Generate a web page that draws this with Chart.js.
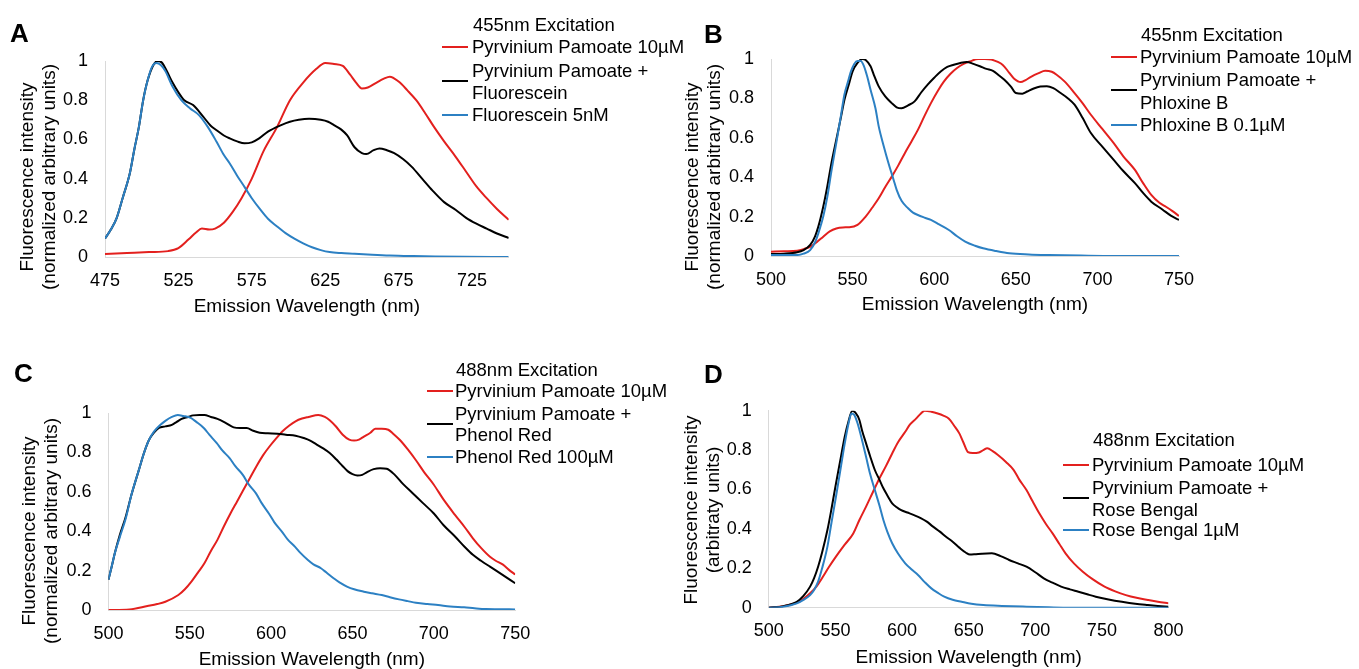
<!DOCTYPE html>
<html>
<head>
<meta charset="utf-8">
<script src="https://cdn.jsdelivr.net/npm/chart.js@4.4.1/dist/chart.umd.min.js"></script>
<style>
  body { margin: 0; background: #fff; width: 1359px; height: 669px; position: relative; overflow: hidden;
         font-family: "Liberation Sans", Arial, sans-serif; color: #000; }
  canvas { position: absolute; }
  .txt { position: absolute; white-space: nowrap; font-size: 18.5px; line-height: 22px; }
  .letter { position: absolute; font-weight: bold; font-size: 26px; line-height: 30px; }
  .ytitle { position: absolute; white-space: nowrap; font-size: 19px; line-height: 21.5px; text-align: center;
            transform: translate(-50%, -50%) rotate(-90deg); }
  .swatch { position: absolute; height: 2px; }
</style>
</head>
<body>
<script>
// ---- tick labels ----
const yTicks = [0, 0.2, 0.4, 0.6, 0.8, 1];
const xTicksA = [475, 525, 575, 625, 675, 725];
const xTicksB = [500, 550, 600, 650, 700, 750];
const xTicksC = [500, 550, 600, 650, 700, 750];
const xTicksD = [500, 550, 600, 650, 700, 750, 800];

// ---- A: 455nm excitation, fluorescein ----
const aPpX = [475, 490, 505, 518, 525, 532, 537, 541, 546, 550, 556, 562, 568, 575, 583, 592, 601, 610, 619, 625, 631, 637, 642, 646, 650, 654, 660, 665, 669, 675, 681, 687, 693, 699, 706, 714, 721, 728, 735, 742, 750];
const aPpY = [0.015, 0.02, 0.025, 0.03, 0.045, 0.09, 0.125, 0.145, 0.14, 0.145, 0.175, 0.23, 0.3, 0.4, 0.54, 0.66, 0.8, 0.89, 0.96, 0.99, 0.985, 0.975, 0.93, 0.89, 0.86, 0.865, 0.89, 0.91, 0.92, 0.895, 0.85, 0.8, 0.735, 0.665, 0.59, 0.51, 0.435, 0.36, 0.3, 0.245, 0.19];
const aMixX = [475, 479, 483, 487, 492, 495, 498, 501, 504, 508, 511, 514, 517, 521, 525, 529, 535, 542, 547, 551, 556, 560, 565, 570, 575, 580, 586, 595, 601, 607, 614, 622, 627, 631, 636, 640, 645, 650, 653, 658, 662, 667, 672, 678, 684, 691, 698, 706, 714, 721, 728, 735, 742, 750];
const aMixY = [0.094, 0.14, 0.2, 0.3, 0.43, 0.55, 0.66, 0.8, 0.9, 0.98, 1.0, 0.99, 0.95, 0.89, 0.84, 0.8, 0.775, 0.715, 0.67, 0.647, 0.62, 0.605, 0.59, 0.58, 0.585, 0.605, 0.64, 0.673, 0.69, 0.7, 0.705, 0.7, 0.69, 0.673, 0.65, 0.62, 0.56, 0.53, 0.525, 0.545, 0.554, 0.545, 0.53, 0.5, 0.46, 0.4, 0.34, 0.28, 0.24, 0.2, 0.17, 0.145, 0.12, 0.097];
const aDyeX = [475, 479, 483, 487, 492, 495, 498, 501, 504, 507, 510, 513, 516, 521, 527, 533, 539, 545, 551, 556, 560, 565, 570, 575, 581, 586, 592, 598, 604, 610, 616, 622, 628, 636, 645, 657, 669, 685, 700, 720, 750];
const aDyeY = [0.094, 0.14, 0.2, 0.3, 0.43, 0.55, 0.66, 0.8, 0.9, 0.97, 0.99, 0.98, 0.95, 0.87, 0.8, 0.758, 0.724, 0.664, 0.588, 0.52, 0.477, 0.415, 0.358, 0.3, 0.24, 0.195, 0.157, 0.122, 0.094, 0.07, 0.05, 0.035, 0.025, 0.02, 0.017, 0.012, 0.008, 0.005, 0.003, 0.001, 0.0];

// ---- B: 455nm excitation, phloxine B ----
const bPpX = [500, 508, 516, 520, 524, 528, 532, 536, 540, 544, 548, 553, 558, 562, 566, 570, 574, 578, 582, 586, 590, 594, 598, 602, 606, 610, 614, 618, 622, 627, 631, 635, 639, 642, 646, 649, 653, 656, 659, 664, 668, 672, 675, 680, 686, 691, 696, 703, 710, 716, 723, 728, 733, 738, 742, 746, 750];
const bPpY = [0.022, 0.024, 0.027, 0.035, 0.047, 0.07, 0.098, 0.125, 0.14, 0.145, 0.146, 0.158, 0.2, 0.245, 0.293, 0.35, 0.403, 0.46, 0.522, 0.58, 0.64, 0.71, 0.776, 0.835, 0.886, 0.925, 0.954, 0.975, 0.988, 1.0, 1.0, 0.997, 0.985, 0.97, 0.93, 0.9, 0.883, 0.893, 0.908, 0.928, 0.94, 0.935, 0.92, 0.885, 0.827, 0.775, 0.717, 0.645, 0.573, 0.505, 0.437, 0.37, 0.31, 0.27, 0.25, 0.228, 0.203];
const bMixX = [500, 508, 516, 520, 524, 527, 529, 532, 534.5, 537, 540, 543, 545, 548, 550, 553, 556, 558, 561, 563, 566, 570, 574, 577, 580, 584, 588, 592, 596, 600, 604, 608, 612, 616, 620, 624, 628, 632, 636, 640, 643, 647, 650, 654, 657, 661, 665, 669, 673, 677, 682, 686, 691, 696, 703, 710, 716, 723, 728, 733, 740, 745, 750];
const bMixY = [0.01, 0.012, 0.019, 0.03, 0.056, 0.1, 0.149, 0.25, 0.353, 0.47, 0.59, 0.71, 0.793, 0.88, 0.937, 0.98, 1.0, 0.995, 0.963, 0.92, 0.861, 0.81, 0.776, 0.755, 0.75, 0.765, 0.785, 0.83, 0.87, 0.905, 0.937, 0.96, 0.971, 0.98, 0.985, 0.975, 0.963, 0.95, 0.94, 0.915, 0.895, 0.86, 0.827, 0.824, 0.835, 0.85, 0.86, 0.862, 0.852, 0.83, 0.8, 0.768, 0.7, 0.624, 0.555, 0.488, 0.43, 0.37, 0.32, 0.276, 0.235, 0.205, 0.183];
const bDyeX = [500, 510, 516, 520, 524, 527, 529, 532, 534.5, 537, 540, 543, 545, 547, 549, 551, 553, 555, 557, 559, 561, 564, 566, 569, 572, 575, 577, 580, 584, 587, 590, 594, 598, 603, 609, 614, 619, 625, 630, 638, 646, 658, 670, 690, 710, 750];
const bDyeY = [0.005, 0.005, 0.005, 0.012, 0.03, 0.07, 0.115, 0.2, 0.3, 0.43, 0.573, 0.72, 0.82, 0.88, 0.937, 0.975, 0.99, 0.99, 0.963, 0.91, 0.844, 0.75, 0.658, 0.56, 0.471, 0.39, 0.336, 0.28, 0.242, 0.22, 0.208, 0.195, 0.183, 0.16, 0.132, 0.1, 0.073, 0.052, 0.039, 0.025, 0.014, 0.008, 0.005, 0.002, 0.0, 0.0];

// ---- C: 488nm excitation, phenol red ----
const cPpX = [500, 513, 524, 530, 535, 543, 547, 551, 555, 559, 563, 567, 571, 575, 579, 583, 587, 591, 595, 599, 603, 607, 611, 615, 619, 623, 629, 633, 636, 640, 644, 648, 651, 654, 657, 661, 664, 668, 672, 675, 679, 684, 689, 694, 700, 706, 713, 719, 724, 729, 734.5, 738, 742.5, 746, 750];
const cPpY = [0.0, 0.003, 0.02, 0.03, 0.042, 0.076, 0.105, 0.144, 0.19, 0.237, 0.3, 0.356, 0.425, 0.49, 0.55, 0.61, 0.67, 0.73, 0.785, 0.83, 0.87, 0.907, 0.935, 0.958, 0.972, 0.98, 0.99, 0.98, 0.963, 0.93, 0.89, 0.865, 0.86, 0.865, 0.88, 0.9, 0.92, 0.92, 0.915, 0.895, 0.864, 0.815, 0.76, 0.7, 0.636, 0.56, 0.483, 0.42, 0.364, 0.315, 0.27, 0.25, 0.23, 0.205, 0.18];
const cMixX = [500, 502, 504, 507, 510.7, 514, 518.7, 522, 525, 528, 531, 535, 539, 542, 545, 549, 552, 556, 559, 563, 567, 572, 577, 581, 585, 589, 593, 598, 604, 609, 615, 620, 624, 628, 632, 636, 640, 644, 647, 650, 653, 656, 659, 663, 667, 671, 676, 681, 687, 693, 700, 706, 713, 719, 724, 729, 734.5, 742, 750];
const cMixY = [0.153, 0.22, 0.29, 0.38, 0.475, 0.58, 0.71, 0.8, 0.864, 0.9, 0.924, 0.932, 0.94, 0.955, 0.97, 0.98, 0.988, 0.99, 0.99, 0.98, 0.97, 0.95, 0.927, 0.924, 0.924, 0.91, 0.9, 0.897, 0.895, 0.89, 0.885, 0.873, 0.86, 0.84, 0.82, 0.797, 0.765, 0.73, 0.705, 0.69, 0.683, 0.686, 0.7, 0.715, 0.72, 0.717, 0.686, 0.64, 0.593, 0.545, 0.49, 0.43, 0.373, 0.32, 0.28, 0.25, 0.22, 0.18, 0.136];
const cDyeX = [500, 502, 504, 507, 510.7, 514, 518.7, 522, 525, 528, 532, 535, 539, 542.6, 546, 550.6, 554, 558.6, 562, 566.6, 570, 574.6, 578, 582.6, 586, 590.6, 594, 598.6, 602, 606.6, 610, 614.6, 618, 622.6, 626, 630.6, 634, 638.6, 642, 646.6, 651, 657, 662, 668, 673, 678.6, 684, 689, 696, 702.6, 710, 718.6, 725, 732, 740, 750];
const cDyeY = [0.153, 0.22, 0.29, 0.37, 0.466, 0.58, 0.71, 0.8, 0.864, 0.905, 0.94, 0.96, 0.98, 0.99, 0.985, 0.975, 0.955, 0.924, 0.89, 0.847, 0.81, 0.77, 0.73, 0.686, 0.64, 0.593, 0.545, 0.49, 0.445, 0.398, 0.36, 0.322, 0.29, 0.254, 0.232, 0.212, 0.19, 0.16, 0.14, 0.119, 0.105, 0.093, 0.085, 0.076, 0.065, 0.054, 0.045, 0.037, 0.03, 0.025, 0.018, 0.0136, 0.009, 0.005, 0.004, 0.003];

// ---- D: 488nm excitation, rose bengal ----
const dPpX = [500, 511, 521, 526, 531, 536, 540.6, 545, 550.4, 557, 563.4, 568, 573, 578, 583, 588, 592.6, 597, 602.4, 606, 610.5, 614, 617, 622, 626.8, 631, 635, 639, 643, 646, 649.5, 653, 657.7, 661, 664, 668, 672, 678, 683.7, 688, 693.4, 698, 703, 708, 713, 718, 722.7, 729, 735.7, 743, 752, 760, 768, 776, 784.5, 792, 800];
const dPpY = [0.0, 0.008, 0.025, 0.045, 0.073, 0.11, 0.157, 0.205, 0.259, 0.32, 0.377, 0.445, 0.513, 0.585, 0.656, 0.72, 0.783, 0.84, 0.893, 0.93, 0.96, 0.985, 1.0, 0.995, 0.986, 0.975, 0.96, 0.925, 0.885, 0.84, 0.79, 0.785, 0.788, 0.8, 0.809, 0.795, 0.775, 0.74, 0.7, 0.65, 0.597, 0.54, 0.479, 0.425, 0.377, 0.325, 0.276, 0.225, 0.183, 0.145, 0.107, 0.083, 0.064, 0.05, 0.039, 0.03, 0.022];
const dMixX = [500, 511, 521, 526, 531, 534, 537, 540, 544, 547, 550.4, 554, 557, 560, 562.7, 565, 568, 570, 573, 576, 579.6, 583, 586, 589, 592.6, 596, 599, 604, 609, 614, 618.6, 623, 628.4, 633, 638, 643, 648, 651, 654.4, 660, 667.4, 674, 680.4, 687, 693.4, 700, 706.4, 713, 719.4, 726, 732.4, 739, 745.4, 755, 765, 775, 784.5, 792, 800];
const dMixY = [0.0, 0.008, 0.03, 0.06, 0.107, 0.15, 0.208, 0.28, 0.394, 0.5, 0.63, 0.76, 0.868, 0.95, 1.0, 0.99, 0.953, 0.9, 0.834, 0.77, 0.699, 0.65, 0.606, 0.57, 0.53, 0.51, 0.496, 0.483, 0.47, 0.455, 0.437, 0.413, 0.386, 0.36, 0.335, 0.305, 0.279, 0.27, 0.271, 0.274, 0.276, 0.262, 0.242, 0.225, 0.208, 0.18, 0.149, 0.127, 0.107, 0.093, 0.081, 0.068, 0.056, 0.042, 0.03, 0.02, 0.0135, 0.009, 0.005];
const dDyeX = [500, 511, 521, 526, 531, 534, 537, 540, 544, 547, 550.4, 554, 557, 560, 562, 564, 566.6, 570, 573, 576, 579.6, 583, 586, 589, 592.6, 597, 602.4, 607, 612, 617, 622, 627, 631.7, 638, 644.7, 652, 661, 675, 693.4, 710, 726, 800];
const dDyeY = [0.0, 0.005, 0.022, 0.04, 0.064, 0.09, 0.132, 0.2, 0.31, 0.43, 0.563, 0.71, 0.834, 0.94, 0.986, 0.98, 0.936, 0.85, 0.766, 0.68, 0.597, 0.52, 0.445, 0.385, 0.327, 0.275, 0.225, 0.195, 0.166, 0.13, 0.098, 0.075, 0.056, 0.04, 0.03, 0.02, 0.0135, 0.009, 0.005, 0.002, 0.0, 0.0];

// ---- texts ----
const xTitle = 'Emission Wavelength (nm)';
const yTitleNorm = ['Fluorescence intensity', '(normalized arbitrary units)'];
const yTitleD = ['Fluorescence intensity', '(arbitraty units)'];
const aLabels = ['Pyrvinium Pamoate 10µM', ['Pyrvinium Pamoate +', 'Fluorescein'], 'Fluorescein 5nM'];
const bLabels = ['Pyrvinium Pamoate 10µM', ['Pyrvinium Pamoate +', 'Phloxine B'], 'Phloxine B 0.1µM'];
const cLabels = ['Pyrvinium Pamoate 10µM', ['Pyrvinium Pamoate +', 'Phenol Red'], 'Phenol Red 100µM'];
const dLabels = ['Pyrvinium Pamoate 10µM', ['Pyrvinium Pamoate +', 'Rose Bengal'], 'Rose Bengal 1µM'];

const colors = ['#e3201e', '#000000', '#2c80c3'];
Chart.defaults.font.family = '"Liberation Sans", Arial, sans-serif';
Chart.defaults.color = '#000';

// layout of the four panels (page pixels)
const panels = [
  { letter: 'A', letterPos: [10, 18], box: [0, 0, 680, 330], plot: [105, 61, 508.7, 257], titleY: 307,
    xMin: 475, xMax: 750, xTicks: xTicksA, yTitle: yTitleNorm, yTitlePos: [37, 177],
    legendTitle: '455nm Excitation', labels: aLabels, swatchX: [442, 468], textX: 472, rows: [25, 47, 70.5, 92.5, 114.5],
    series: [[aPpX, aPpY], [aMixX, aMixY], [aDyeX, aDyeY]] },
  { letter: 'B', letterPos: [704, 19], box: [680, 0, 679, 330], plot: [771, 59, 1179, 256], titleY: 305,
    xMin: 500, xMax: 750, xTicks: xTicksB, yTitle: yTitleNorm, yTitlePos: [702, 176.5],
    legendTitle: '455nm Excitation', labels: bLabels, swatchX: [1111, 1137], textX: 1140, rows: [35, 56.7, 80, 102.7, 125],
    series: [[bPpX, bPpY], [bMixX, bMixY], [bDyeX, bDyeY]] },
  { letter: 'C', letterPos: [14, 358], box: [0, 330, 680, 339], plot: [108.4, 413, 515.2, 610], titleY: 659.5,
    xMin: 500, xMax: 750, xTicks: xTicksC, yTitle: yTitleNorm, yTitlePos: [39, 530.5],
    legendTitle: '488nm Excitation', labels: cLabels, swatchX: [427, 453], textX: 455, rows: [370, 391, 414, 435.3, 456.7],
    series: [[cPpX, cPpY], [cMixX, cMixY], [cDyeX, cDyeY]] },
  { letter: 'D', letterPos: [704, 359], box: [680, 330, 679, 339], plot: [768.8, 410.7, 1168.5, 607.7], titleY: 658,
    xMin: 500, xMax: 800, xTicks: xTicksD, yTitle: yTitleD, yTitlePos: [700.6, 509.5],
    legendTitle: '488nm Excitation', labels: dLabels, swatchX: [1063, 1089], textX: 1092, rows: [440, 465, 488.3, 510, 530],
    series: [[dPpX, dPpY], [dMixX, dMixY], [dDyeX, dDyeY]] }
];

function addDiv(cls, text, left, top) {
  const d = document.createElement('div');
  d.className = cls;
  if (text !== null) d.textContent = text;
  d.style.left = left + 'px';
  d.style.top = top + 'px';
  document.body.appendChild(d);
  return d;
}

function addSwatch(x1, x2, y, color) {
  const s = addDiv('swatch', null, x1, y - 1);
  s.style.width = (x2 - x1) + 'px';
  s.style.background = color;
}

panels.forEach((p) => {
  const [bx, by, bw, bh] = p.box;
  const [l, t, r, b] = p.plot;
  const yAxisWidth = 50;
  const titleBottom = p.titleY + 9.5;
  const padBottom = Math.max(0, by + bh - titleBottom);
  const xAxisHeight = by + bh - padBottom - b;

  const cv = document.createElement('canvas');
  cv.width = bw;
  cv.height = bh;
  cv.style.left = bx + 'px';
  cv.style.top = by + 'px';
  cv.style.width = bw + 'px';
  cv.style.height = bh + 'px';
  document.body.appendChild(cv);

  new Chart(cv, {
    type: 'line',
    data: {
      datasets: p.series.map(([xs, ys], i) => ({
        label: [].concat(p.labels[i]).join(' '),
        data: xs.map((x, k) => ({ x: x, y: ys[k] })),
        borderColor: colors[i],
        borderWidth: 2,
        pointRadius: 0,
        cubicInterpolationMode: 'monotone',
        fill: false,
        order: 3 - i
      }))
    },
    options: {
      responsive: false,
      animation: false,
      events: [],
      layout: { padding: { left: l - bx - yAxisWidth, right: bx + bw - r, top: t - by, bottom: padBottom } },
      plugins: { legend: { display: false }, tooltip: { enabled: false } },
      scales: {
        x: {
          type: 'linear',
          min: p.xMin,
          max: p.xMax,
          afterBuildTicks: (ax) => { ax.ticks = p.xTicks.map((v) => ({ value: v })); },
          afterFit: (ax) => { ax.height = xAxisHeight; },
          grid: { display: false, drawTicks: false },
          border: { display: true, color: '#d9d9d9', width: 1 },
          ticks: { font: { size: 18 }, padding: 13, maxRotation: 0, autoSkip: false },
          title: { display: true, text: xTitle, font: { size: 19, lineHeight: 1 }, padding: 0 }
        },
        y: {
          min: 0,
          max: 1,
          afterBuildTicks: (ax) => { ax.ticks = yTicks.map((v) => ({ value: v })); },
          afterFit: (ax) => { ax.width = yAxisWidth; },
          grid: { display: false, drawTicks: false },
          border: { display: true, color: '#d9d9d9', width: 1 },
          ticks: { font: { size: 18 }, padding: 17, format: { minimumFractionDigits: 0, maximumFractionDigits: 1 } }
        }
      }
    }
  });

  // panel letter
  addDiv('letter', p.letter, p.letterPos[0], p.letterPos[1]);

  // y axis title, two lines
  const yt = addDiv('ytitle', null, p.yTitlePos[0], p.yTitlePos[1]);
  yt.innerHTML = p.yTitle.map((s) => '<div>' + s + '</div>').join('');

  // legend
  const rows = p.rows;
  addDiv('txt', p.legendTitle, p.textX + 1, rows[0] - 11);
  addSwatch(p.swatchX[0], p.swatchX[1], rows[1], colors[0]);
  addDiv('txt', p.labels[0], p.textX, rows[1] - 11);
  addSwatch(p.swatchX[0], p.swatchX[1], (rows[2] + rows[3]) / 2 - 1, colors[1]);
  addDiv('txt', p.labels[1][0], p.textX, rows[2] - 11);
  addDiv('txt', p.labels[1][1], p.textX, rows[3] - 11);
  addSwatch(p.swatchX[0], p.swatchX[1], rows[4], colors[2]);
  addDiv('txt', p.labels[2], p.textX, rows[4] - 11);
});
</script>
</body>
</html>
